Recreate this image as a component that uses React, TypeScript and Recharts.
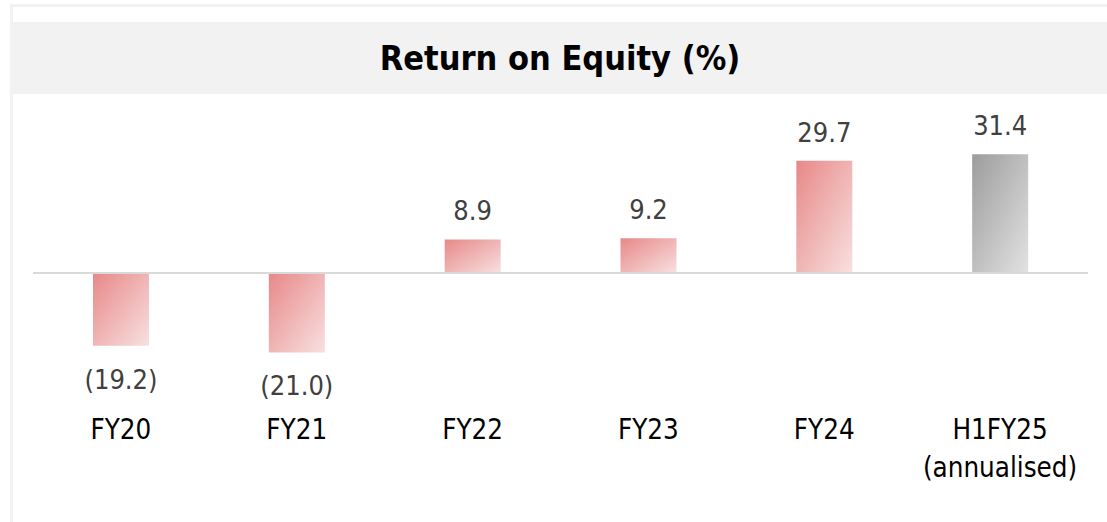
import React from "react";
import { BarChart, Bar, XAxis, YAxis, Cell, LabelList, ReferenceLine } from "recharts";

const categories = ["FY20", "FY21", "FY22", "FY23", "FY24", "H1FY25\n(annualised)"];
const roeValues = [-19.2, -21.0, 8.9, 9.2, 29.7, 31.4];
const highlightIndex = [false, false, false, false, false, true];

const data = categories.map((c, i) => ({ name: c, value: roeValues[i], highlight: highlightIndex[i] }));

const FONT = '"Liberation Sans Narrow", "DejaVu Sans Condensed", "Liberation Sans", sans-serif';

const fmt = (v: number) => (v < 0 ? `(${Math.abs(v).toFixed(1)})` : v.toFixed(1));

const ValueLabel = (props: any) => {
  const { x, y, width, height, value } = props;
  const top = Math.min(y, y + height);
  const bottom = Math.max(y, y + height);
  const cx = x + width / 2;
  const ty = value >= 0 ? top - 19 : bottom + 43;
  return (
    <text x={cx} y={ty} textAnchor="middle" fill="#404040" fontSize={27} fontFamily={FONT}>
      {fmt(value)}
    </text>
  );
};

const CategoryTick = (props: any) => {
  const { x, y, payload } = props;
  const lines = String(payload.value).split("\n");
  return (
    <text x={x} y={y + 21} textAnchor="middle" fill="#000" fontSize={27.5} fontFamily={FONT}>
      {lines.map((l, i) => (
        <tspan key={i} x={x} dy={i === 0 ? 0 : 38}>
          {l}
        </tspan>
      ))}
    </text>
  );
};

export default function App() {
  return (
    <div style={{ position: "absolute", left: 0, top: 0, width: 1107, height: 522, background: "#fff", overflow: "hidden" }}>
      <div style={{ position: "absolute", left: 10, top: 4, width: 1097, height: 3, background: "#f2f2f2" }} />
      <div style={{ position: "absolute", left: 10, top: 4, width: 3, height: 518, background: "#f2f2f2" }} />
      <div
        style={{
          position: "absolute",
          left: 13,
          top: 22,
          width: 1094,
          height: 72,
          background: "#f2f2f2",
          display: "flex",
          alignItems: "center",
          justifyContent: "center",
          fontFamily: FONT,
          fontWeight: 700,
          fontSize: 34,
          color: "#000",
        }}
      >
        Return on Equity (%)
      </div>
      <div style={{ position: "absolute", left: 0, top: 0 }}>
        <BarChart width={1107} height={522} data={data} margin={{ top: 110, right: 19, bottom: 52, left: 33 }}>
          <defs>
            <linearGradient id="gradRed" x1="0" y1="0" x2="1" y2="1">
              <stop offset="0%" stopColor="#e88888" />
              <stop offset="100%" stopColor="#f8e0e0" />
            </linearGradient>
            <linearGradient id="gradGray" x1="0" y1="0" x2="1" y2="1">
              <stop offset="0%" stopColor="#9c9c9c" />
              <stop offset="100%" stopColor="#e2e2e2" />
            </linearGradient>
          </defs>
          <XAxis dataKey="name" axisLine={false} tickLine={false} height={60} interval={0} tick={<CategoryTick />} />
          <YAxis hide domain={[-36.2, 43.1]} allowDataOverflow />
          <ReferenceLine y={0} stroke="#d9d9d9" strokeWidth={2} />
          <Bar dataKey="value" barSize={56} isAnimationActive={false}>
            {data.map((d, i) => (
              <Cell key={i} fill={d.highlight ? "url(#gradGray)" : "url(#gradRed)"} />
            ))}
            <LabelList dataKey="value" content={<ValueLabel />} />
          </Bar>
        </BarChart>
      </div>
    </div>
  );
}
